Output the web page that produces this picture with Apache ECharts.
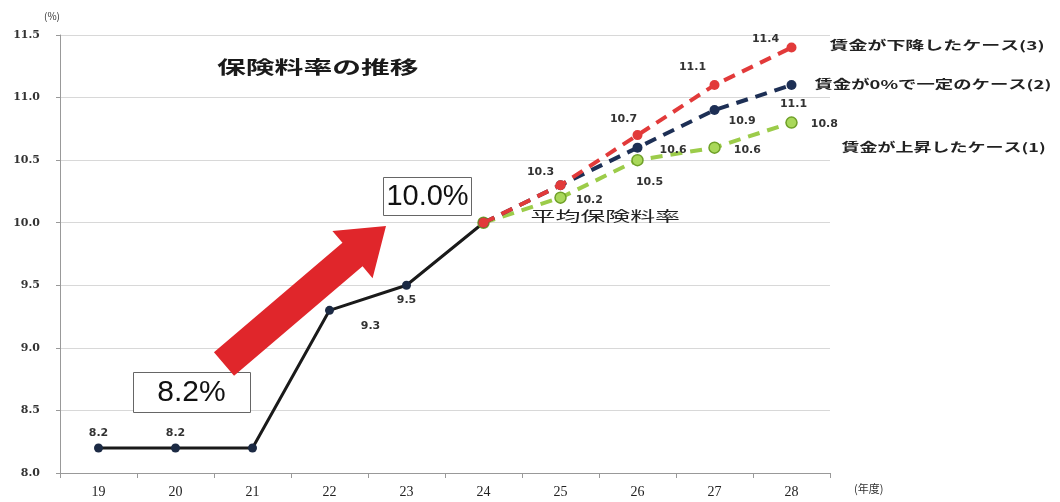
<!DOCTYPE html>
<html>
<head>
<meta charset="utf-8">
<script src="https://cdn.jsdelivr.net/npm/echarts@6/dist/echarts.min.js"></script>
<style>
  html, body { margin: 0; padding: 0; background: #fff; }
  #chart { width: 1060px; height: 502px; }
</style>
</head>
<body>
<div id="chart"></div>
<script>
// 年度と保険料率
const years = ['19', '20', '21', '22', '23', '24', '25', '26', '27', '28'];
const actualRate = [8.2, 8.2, 8.2, 9.3, 9.5, 10.0, null, null, null, null];
const caseUp = [null, null, null, null, null, 10.0, 10.2, 10.5, 10.6, 10.8];      // (1)
const caseFlat = [null, null, null, null, null, 10.0, 10.3, 10.6, 10.9, 11.1];    // (2)
const caseDown = [null, null, null, null, null, 10.0, 10.3, 10.7, 11.1, 11.4];    // (3)
const yTicks = [8.0, 8.5, 9.0, 9.5, 10.0, 10.5, 11.0, 11.5];

const nameUp = '賃金が上昇したケース(1)';
const nameFlat = '賃金が0%で一定のケース(2)';
const nameDown = '賃金が下降したケース(3)';

const FONT = '"Noto Sans CJK JP", "Noto Sans", sans-serif';

// ラベル位置（index -> label設定）
const actualLabels = {
  0: { position: 'top', offset: [0, 0] },
  1: { position: 'top', offset: [0, 0] },
  3: { position: 'bottom', offset: [41, 1] },
  4: { position: 'bottom', offset: [0, 0] }
};
const downLabels = {
  6: { position: 'top', offset: [-20, 2] },
  7: { position: 'top', offset: [-14, 0] },
  8: { position: 'top', offset: [-22, -2] },
  9: { position: 'top', offset: [-26, 7] }
};
const flatLabels = {
  7: { position: 'right', offset: [12, 3] },
  8: { position: 'right', offset: [4, 11] },
  9: { position: 'bottom', offset: [2, 4] }
};
const upLabels = {
  6: { position: 'right', offset: [4, 2] },
  7: { position: 'bottom', offset: [12, 5] },
  8: { position: 'right', offset: [8, 3] },
  9: { position: 'right', offset: [8, 2] }
};

function buildData(values, labels) {
  return values.map((v, i) => {
    if (labels[i]) {
      return { value: v, label: Object.assign({ show: true }, labels[i]) };
    }
    return v;
  });
}

const labelStyle = {
  show: false,
  color: '#333',
  fontSize: 11,
  fontFamily: '"DejaVu Sans", sans-serif',
  fontWeight: 'bold'
};

// 矢印の形
function arrowPoints(x1, y1, x2, y2, shaftW, headW, headL) {
  const dx = x2 - x1, dy = y2 - y1;
  const len = Math.sqrt(dx * dx + dy * dy);
  const ux = dx / len, uy = dy / len;
  const nx = -uy, ny = ux;
  const bx = x2 - ux * headL, by = y2 - uy * headL;
  return [
    [x1 + nx * shaftW / 2, y1 + ny * shaftW / 2],
    [bx + nx * shaftW / 2, by + ny * shaftW / 2],
    [bx + nx * headW / 2, by + ny * headW / 2],
    [x2, y2],
    [bx - nx * headW / 2, by - ny * headW / 2],
    [bx - nx * shaftW / 2, by - ny * shaftW / 2],
    [x1 - nx * shaftW / 2, y1 - ny * shaftW / 2]
  ];
}

// 横に伸ばした文字
function wideText(x, y, text, size, scaleX, opts) {
  return {
    type: 'text', x: x, y: y, scaleX: scaleX, originX: 0, originY: 0, z: 12,
    style: Object.assign({ text: text, fontSize: size, fontFamily: FONT, fill: '#222', verticalAlign: 'middle' }, opts || {})
  };
}

const chart = echarts.init(document.getElementById('chart'));
chart.setOption({
  backgroundColor: '#fff',
  animation: false,
  grid: { left: 60, right: 230, top: 35, bottom: 29 },
  xAxis: {
    type: 'category',
    data: years,
    boundaryGap: true,
    name: '(年度)',
    nameLocation: 'end',
    nameGap: 24,
    nameTextStyle: { color: '#333', fontSize: 11, fontFamily: FONT, verticalAlign: 'top', padding: [10, 0, 0, 0] },
    axisLine: { lineStyle: { color: '#999', width: 1 } },
    axisTick: { show: true, lineStyle: { color: '#999' } },
    axisLabel: { color: '#222', fontSize: 14, fontFamily: 'Liberation Serif, serif', margin: 12 }
  },
  yAxis: {
    type: 'value',
    min: 8.0,
    max: 11.5,
    interval: 0.5,
    name: '(%)',
    nameLocation: 'end',
    nameGap: 14,
    nameTextStyle: { color: '#333', fontSize: 10, fontFamily: FONT, align: 'right' },
    axisLine: { show: true, lineStyle: { color: '#999', width: 1 } },
    axisTick: { show: true, length: 4, lineStyle: { color: '#999' } },
    splitLine: { lineStyle: { color: '#d8d8d8', width: 1 } },
    axisLabel: {
      color: '#333', fontSize: 11, fontWeight: 'bold', fontFamily: 'DejaVu Serif, serif', margin: 20,
      formatter: v => yTicks.includes(v) ? v.toFixed(1) : ''
    }
  },
  series: [
    {
      name: '平均保険料率',
      type: 'line',
      data: buildData(actualRate, actualLabels),
      symbol: 'circle',
      symbolSize: 9,
      lineStyle: { color: '#1a1a1a', width: 3 },
      itemStyle: { color: '#1c2a44' },
      label: labelStyle,
      z: 2
    },
    {
      name: nameUp,
      type: 'line',
      data: buildData(caseUp, upLabels),
      symbol: 'circle',
      symbolSize: 11,
      lineStyle: { color: '#9ccc4a', width: 4, type: [12, 8] },
      itemStyle: { color: '#a9d85a', borderColor: '#6fa028', borderWidth: 1.5 },
      label: labelStyle,
      z: 3
    },
    {
      name: nameFlat,
      type: 'line',
      data: buildData(caseFlat, flatLabels),
      symbol: 'circle',
      symbolSize: 10,
      lineStyle: { color: '#1d2f55', width: 4, type: [12, 8] },
      itemStyle: { color: '#1d2f55' },
      label: labelStyle,
      z: 4
    },
    {
      name: nameDown,
      type: 'line',
      data: buildData(caseDown, downLabels),
      symbol: 'circle',
      symbolSize: 10,
      lineStyle: { color: '#e23a3a', width: 4, type: [12, 8] },
      itemStyle: { color: '#e23a3a' },
      label: labelStyle,
      z: 5
    }
  ]
});

// 系列名は最終点の右側に置く
const last = years.length - 1;
const pDown = chart.convertToPixel({ seriesIndex: 3 }, [last, caseDown[last]]);
const pFlat = chart.convertToPixel({ seriesIndex: 2 }, [last, caseFlat[last]]);
const pUp = chart.convertToPixel({ seriesIndex: 1 }, [last, caseUp[last]]);
const p24 = chart.convertToPixel({ seriesIndex: 0 }, [5, actualRate[5]]);

chart.setOption({
  graphic: [
    wideText(217, 67, '保険料率の推移', 18, 1.6, { fontWeight: 'bold', fill: '#1a1a1a' }),
    wideText(pDown[0] + 38, pDown[1] - 2, nameDown, 12, 1.58, { fontWeight: 'bold' }),
    wideText(pFlat[0] + 23, pFlat[1] - 1, nameFlat, 12, 1.53, { fontWeight: 'bold' }),
    wideText(pUp[0] + 50, pUp[1] + 25, nameUp, 12, 1.5, { fontWeight: 'bold' }),
    wideText(p24[0] + 47, p24[1] - 7, '平均保険料率', 14, 1.78, {}),
    {
      type: 'polygon',
      shape: { points: arrowPoints(224, 364, 386, 226, 31, 62, 44) },
      style: { fill: '#e0262b' },
      z: 10
    },
    {
      type: 'group', left: 383, top: 177, z: 11,
      children: [
        { type: 'rect', shape: { x: 0, y: 0, width: 88, height: 38 }, style: { fill: '#fff', stroke: '#666', lineWidth: 1 } },
        { type: 'text', x: 44, y: 19, style: { text: '10.0%', fontSize: 29, fontFamily: 'Liberation Sans, sans-serif', fill: '#111', align: 'center', verticalAlign: 'middle' } }
      ]
    },
    {
      type: 'group', left: 133, top: 372, z: 11,
      children: [
        { type: 'rect', shape: { x: 0, y: 0, width: 117, height: 40 }, style: { fill: '#fff', stroke: '#666', lineWidth: 1 } },
        { type: 'text', x: 58, y: 20, style: { text: '8.2%', fontSize: 30, fontFamily: 'Liberation Sans, sans-serif', fill: '#111', align: 'center', verticalAlign: 'middle' } }
      ]
    }
  ]
});
</script>
</body>
</html>
